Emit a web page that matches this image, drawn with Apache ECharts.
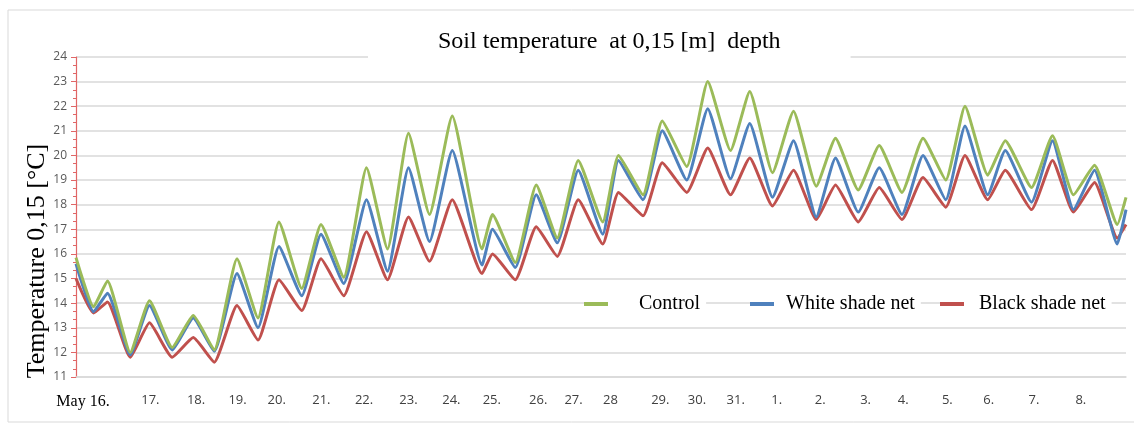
<!DOCTYPE html>
<html>
<head>
<meta charset="utf-8">
<script src="https://cdn.jsdelivr.net/npm/echarts@6/dist/echarts.min.js"></script>
<style>
  html, body { margin: 0; padding: 0; background: #fff; }
  #chart { width: 1134px; height: 425px; }
</style>
</head>
<body>
<div id="chart"></div>
<script>
// hours since start of May 16 (daily highs / lows)
var hours = [0, 10, 18, 31, 42, 55, 67, 79, 92, 104, 116, 129, 140, 153, 166, 178, 190, 202, 215, 232,
    238, 251, 263, 275, 287, 301, 310, 324, 335, 349, 361, 374, 385, 398, 410, 423, 434, 447, 459, 472,
    484, 497, 508, 521, 531, 546, 558, 570, 582, 595, 600];
var control = [15.85, 13.85, 14.9, 12.0, 14.1, 12.2, 13.5, 12.1, 15.8, 13.4, 17.3, 14.6, 17.2, 15.05, 19.5, 16.2, 20.9, 17.6, 21.6, 16.2,
    17.6, 15.65, 18.8, 16.65, 19.8, 17.3, 20.0, 18.4, 21.4, 19.55, 23.0, 20.2, 22.6, 19.3, 21.8, 18.75, 20.7, 18.6, 20.4, 18.5,
    20.7, 19.0, 22.0, 19.2, 20.6, 18.7, 20.8, 18.4, 19.6, 17.2, 18.3];
var whiteNet = [15.6, 13.65, 14.4, 11.9, 13.9, 12.1, 13.4, 12.05, 15.2, 13.0, 16.3, 14.3, 16.8, 14.8, 18.2, 15.3, 19.5, 16.5, 20.2, 15.55,
    17.0, 15.45, 18.4, 16.45, 19.4, 16.8, 19.8, 18.2, 21.0, 19.0, 21.9, 19.05, 21.3, 18.3, 20.6, 17.5, 19.9, 17.7, 19.5, 17.6,
    20.0, 18.2, 21.2, 18.4, 20.2, 18.1, 20.6, 17.8, 19.4, 16.4, 17.8];
var blackNet = [15.0, 13.6, 14.05, 11.8, 13.2, 11.8, 12.6, 11.6, 13.9, 12.5, 14.95, 13.7, 15.8, 14.3, 16.9, 14.95, 17.5, 15.7, 18.2, 15.2,
    16.0, 14.95, 17.1, 15.9, 18.2, 16.4, 18.5, 17.55, 19.7, 18.5, 20.3, 18.4, 19.9, 17.95, 19.4, 17.4, 18.8, 17.3, 18.7, 17.4,
    19.1, 17.9, 20.0, 18.2, 19.4, 17.8, 19.8, 17.7, 18.9, 16.65, 17.2];

// day labels and where they sit on the time axis (hours)
var dayLabels = ['May 16.', '17.', '18.', '19.', '20.', '21.', '22.', '23.', '24.', '25.', '26.', '27.', '28',
    '29.', '30.', '31.', '1.', '2.', '3.', '4.', '5.', '6.', '7.', '8.'];
var dayLabelHours = [4, 42.5, 68.6, 92.3, 114.7, 140.2, 164.6, 190, 214.5, 237.6, 264.1, 284.3, 305.4,
    333.9, 354.8, 377, 400.4, 425.3, 451.2, 472.7, 497.9, 521.5, 547.4, 574.2];

var seriesNames = ['Control', 'White shade net', 'Black shade net'];
var seriesColors = ['#9BBB59', '#4F81BD', '#C0504D'];

var pairs = function(vals) {
    var out = [];
    for (var i = 0; i < hours.length; i++) {
        out.push([hours[i], vals[i]]);
    }
    return out;
};

var serif = '"Liberation Serif", "Times New Roman", serif';
var sans = '"Open Sans", "Liberation Sans", sans-serif';

var legendAt = function(name, left, gap) {
    return {
        data: [name],
        left: left,
        top: 292,
        padding: [2, 6, 2, 0],
        backgroundColor: '#fff',
        itemWidth: 24,
        itemHeight: 4,
        icon: 'rect',
        selectedMode: false,
        textStyle: { fontFamily: serif, fontSize: 20, color: '#000', padding: [0, 0, 0, gap] }
    };
};

var chart = echarts.init(document.getElementById('chart'));
chart.setOption({
    animation: false,
    backgroundColor: '#fff',
    title: {
        text: 'Soil temperature  at 0,15 [m]  depth',
        left: 368,
        top: 26,
        padding: [4, 70, 6, 70],
        backgroundColor: '#fff',
        textStyle: { fontFamily: serif, fontSize: 24, fontWeight: 'normal', color: '#000' }
    },
    legend: [
        legendAt('Control', 584, 26),
        legendAt('White shade net', 750, 7),
        legendAt('Black shade net', 940, 10)
    ],
    grid: { left: 76, right: 8, top: 57, bottom: 48 },
    xAxis: {
        type: 'value',
        min: 0,
        max: 600,
        axisLine: { show: true, lineStyle: { color: '#d9d9d9', width: 1.5 } },
        axisTick: { show: false },
        splitLine: { show: false },
        axisLabel: {
            customValues: dayLabelHours,
            margin: 17,
            color: '#404040',
            fontFamily: sans,
            fontSize: 13,
            formatter: function(value) {
                var i = dayLabelHours.indexOf(value);
                if (i < 0) return '';
                if (i === 0) return '{first|' + dayLabels[0] + '}';
                return dayLabels[i];
            },
            rich: {
                first: { fontFamily: serif, fontSize: 16, color: '#000' }
            }
        }
    },
    yAxis: {
        type: 'value',
        min: 11,
        max: 24,
        interval: 1,
        axisLine: { show: true, lineStyle: { color: '#e06666', width: 1.2 } },
        axisTick: { show: true, length: 5, lineStyle: { color: '#e06666' } },
        minorTick: { show: true, splitNumber: 3, length: 3, lineStyle: { color: '#e06666' } },
        splitLine: { show: true, lineStyle: { color: '#d9d9d9', width: 1.5 } },
        axisLabel: { color: '#595959', fontFamily: sans, fontSize: 12, margin: 9 }
    },
    series: seriesNames.map(function(name, k) {
        return {
            name: name,
            type: 'line',
            data: pairs([control, whiteNet, blackNet][k]),
            symbol: 'none',
            smooth: 0.15,
            color: seriesColors[k],
            lineStyle: { width: 3, color: seriesColors[k] },
            z: 3 - k
        };
    }),
    graphic: [
        {
            type: 'rect',
            shape: { x: 8, y: 10, width: 1140, height: 412 },
            style: { fill: 'none', stroke: '#d9d9d9', lineWidth: 1 },
            silent: true
        },
        {
            type: 'text',
            x: 37,
            y: 261,
            rotation: Math.PI / 2,
            style: {
                text: 'Temperature 0,15 [°C]',
                fontFamily: serif,
                fontSize: 26,
                fill: '#000',
                align: 'center',
                verticalAlign: 'middle'
            }
        }
    ]
});
</script>
</body>
</html>
